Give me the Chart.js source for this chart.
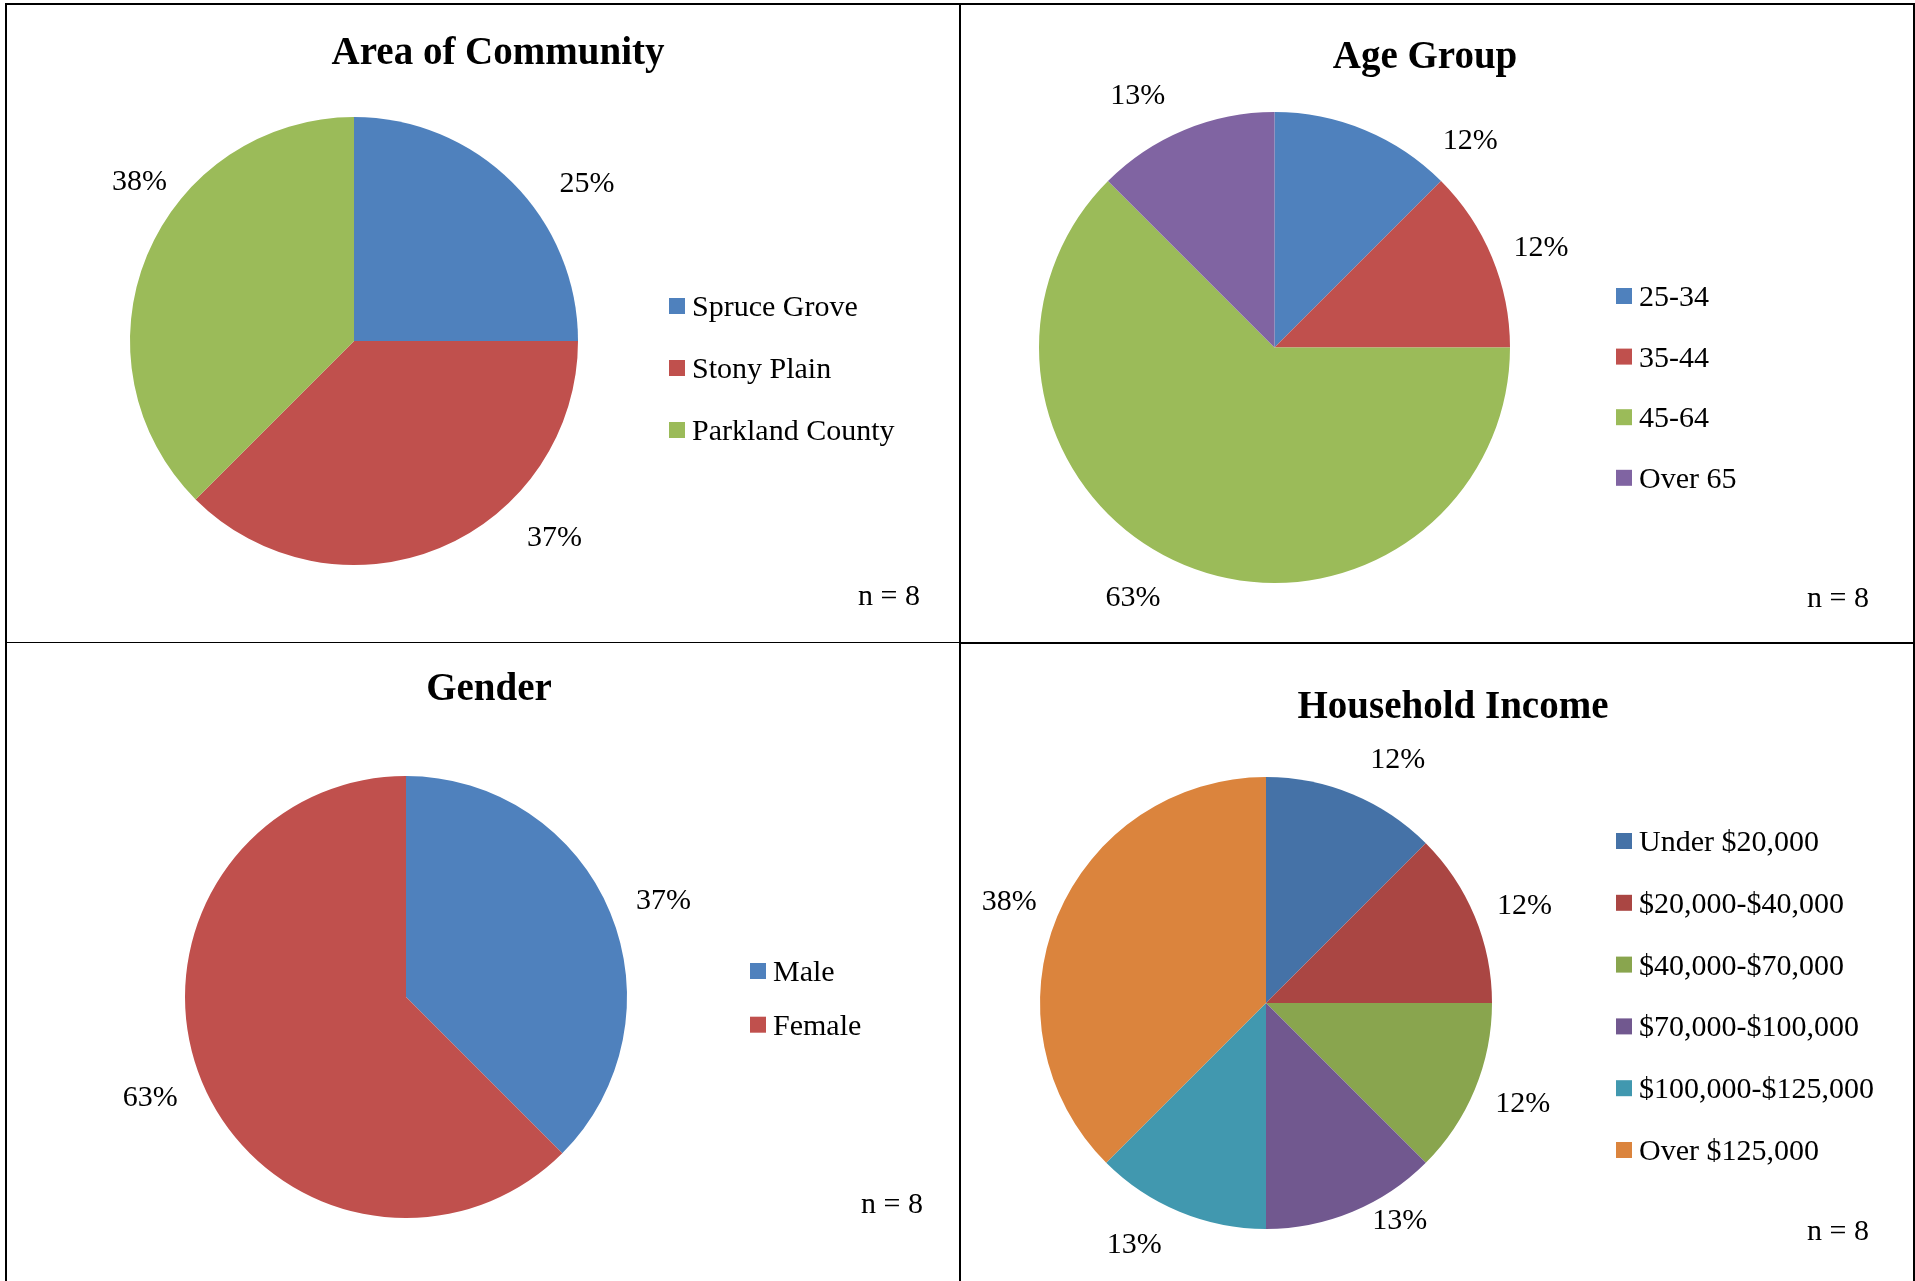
<!DOCTYPE html>
<html>
<head>
<meta charset="utf-8">
<script src="https://cdn.jsdelivr.net/npm/chart.js@4.4.0/dist/chart.umd.min.js"></script>
<style>
  html, body { margin: 0; padding: 0; background: #fff; }
  #page { position: relative; width: 1915px; height: 1281px; overflow: hidden; background: #fff; }
  canvas { position: absolute; }
  .rule { position: absolute; background: #000; }
</style>
</head>
<body>
<div id="page">
  <canvas id="areaChart" width="952" height="637" style="left:7px; top:5px"></canvas>
  <canvas id="ageChart" width="951" height="637" style="left:961px; top:5px"></canvas>
  <canvas id="genderChart" width="952" height="637" style="left:7px; top:644px"></canvas>
  <canvas id="incomeChart" width="951" height="637" style="left:961px; top:644px"></canvas>

  <!-- table borders -->
  <div class="rule" style="left:5px; top:3px; width:1910px; height:2px"></div>
  <div class="rule" style="left:5px; top:3px; width:2px; height:1278px"></div>
  <div class="rule" style="left:959px; top:3px; width:2px; height:1278px"></div>
  <div class="rule" style="left:1913px; top:3px; width:2px; height:1278px"></div>
  <div class="rule" style="left:5px; top:642px; width:955px; height:1px"></div>
  <div class="rule" style="left:959px; top:642px; width:956px; height:2px"></div>
</div>

<script>
// ===== DATA =====
// slice sizes are respondent counts (n = 8), labels are the percentages as printed
const sampleSize = 8;

const areaTitle = 'Area of Community';
const areaLabels = ['Spruce Grove', 'Stony Plain', 'Parkland County'];
const areaCounts = [2, 3, 3];
const areaPct = ['25%', '37%', '38%'];

const ageTitle = 'Age Group';
const ageLabels = ['25-34', '35-44', '45-64', 'Over 65'];
const ageCounts = [1, 1, 5, 1];
const agePct = ['12%', '12%', '63%', '13%'];

const genderTitle = 'Gender';
const genderLabels = ['Male', 'Female'];
const genderCounts = [3, 5];
const genderPct = ['37%', '63%'];

const incomeTitle = 'Household Income';
const incomeLabels = ['Under $20,000', '$20,000-$40,000', '$40,000-$70,000', '$70,000-$100,000', '$100,000-$125,000', 'Over $125,000'];
const incomeCounts = [1, 1, 1, 1, 1, 3];
const incomePct = ['12%', '12%', '12%', '13%', '13%', '38%'];

// ===== STYLE =====
const officeColors = ['#4F81BD', '#C0504D', '#9BBB59', '#8064A2'];
const incomeColors = ['#4572A7', '#AA4643', '#89A54E', '#71588F', '#4198AF', '#DB843D'];
const SERIF = '"Liberation Serif", "Times New Roman", serif';
const TEXT_FONT = '30px ' + SERIF;
const TITLE_FONT = 'bold 39px ' + SERIF;

// titles, value labels, legend and "n = 8" drawn on top of the pie
const pieDecor = {
  id: 'pieDecor',
  afterDraw(chart, args, opts) {
    const ctx = chart.ctx;
    const meta = chart.getDatasetMeta(0);
    const ds = chart.data.datasets[0];
    ctx.save();
    ctx.fillStyle = '#000';

    // title
    ctx.font = TITLE_FONT;
    ctx.textAlign = 'center';
    ctx.textBaseline = 'alphabetic';
    ctx.fillText(opts.title, opts.titleX, opts.titleY);

    // percentage labels outside each slice (shift/gapAdj = labels nudged by hand in the original)
    ctx.font = TEXT_FONT;
    ctx.textBaseline = 'middle';
    meta.data.forEach((arc, i) => {
      const p = arc.getProps(['x', 'y', 'startAngle', 'endAngle', 'outerRadius'], true);
      const shift = (opts.shift && opts.shift[i]) || 0;
      const mid = (p.startAngle + p.endAngle) / 2 + shift * Math.PI / 180;
      const d = p.outerRadius + opts.gap + ((opts.gapAdj && opts.gapAdj[i]) || 0);
      ctx.fillText(opts.pct[i], p.x + Math.cos(mid) * d, p.y + Math.sin(mid) * d);
    });

    // legend
    const lg = opts.legend;
    ctx.textAlign = 'left';
    ctx.textBaseline = 'alphabetic';
    chart.data.labels.forEach((label, i) => {
      const cy = lg.y + i * lg.step;
      ctx.fillStyle = ds.backgroundColor[i];
      ctx.fillRect(lg.x, cy - 8, 16, 16);
      ctx.fillStyle = '#000';
      ctx.fillText(label, lg.x + 23, cy + 10);
    });

    // sample size
    ctx.textAlign = 'right';
    ctx.fillText('n = ' + sampleSize, opts.noteX, opts.noteY);
    ctx.restore();
  }
};

// place the pie so its centre / radius land where they sit in the document
function makePie(id, labels, values, colors, geo, decor) {
  const canvas = document.getElementById(id);
  const W = canvas.width, H = canvas.height;
  return new Chart(canvas, {
    type: 'pie',
    data: {
      labels,
      datasets: [{
        data: values,
        backgroundColor: colors.slice(0, values.length),
        borderWidth: 0,
      }]
    },
    options: {
      responsive: false,
      animation: false,
      layout: {
        padding: {
          left: geo.cx - geo.r,
          right: W - geo.cx - geo.r,
          top: geo.cy - geo.r,
          bottom: H - geo.cy - geo.r,
        }
      },
      plugins: {
        legend: { display: false },
        tooltip: { enabled: false },
        title: { display: false },
        pieDecor: decor,
      }
    },
    plugins: [pieDecor]
  });
}

// ===== INIT =====
makePie('areaChart', areaLabels, areaCounts, officeColors,
  { cx: 347, cy: 336, r: 224 },
  { title: areaTitle, titleX: 491, titleY: 59, pct: areaPct, gap: 57, shift: [11, -23, 14], gapAdj: [0, 0, -14],
    legend: { x: 662, y: 301, step: 62 }, noteX: 913, noteY: 600 });

makePie('ageChart', ageLabels, ageCounts, officeColors,
  { cx: 313.5, cy: 342.5, r: 235.5 },
  { title: ageTitle, titleX: 464, titleY: 63, pct: agePct, gap: 49, shift: [21, 2, 7, -6], gapAdj: [0, 0, 3, 2],
    legend: { x: 655, y: 291, step: 60.6 }, noteX: 908, noteY: 602 });

makePie('genderChart', genderLabels, genderCounts, officeColors,
  { cx: 399, cy: 353, r: 221 },
  { title: genderTitle, titleX: 482, titleY: 56, pct: genderPct, gap: 54, shift: [2, 1],
    legend: { x: 743, y: 327, step: 53.7 }, noteX: 916, noteY: 569 });

makePie('incomeChart', incomeLabels, incomeCounts, incomeColors,
  { cx: 305, cy: 359, r: 226 },
  { title: incomeTitle, titleX: 492, titleY: 74, pct: incomePct, gap: 50, shift: [6, 2, -1, -9, 6, -1], gapAdj: [0, 0, 0, -20, 0, 0],
    legend: { x: 655, y: 197, step: 61.8 }, noteX: 908, noteY: 596 });
</script>
</body>
</html>
